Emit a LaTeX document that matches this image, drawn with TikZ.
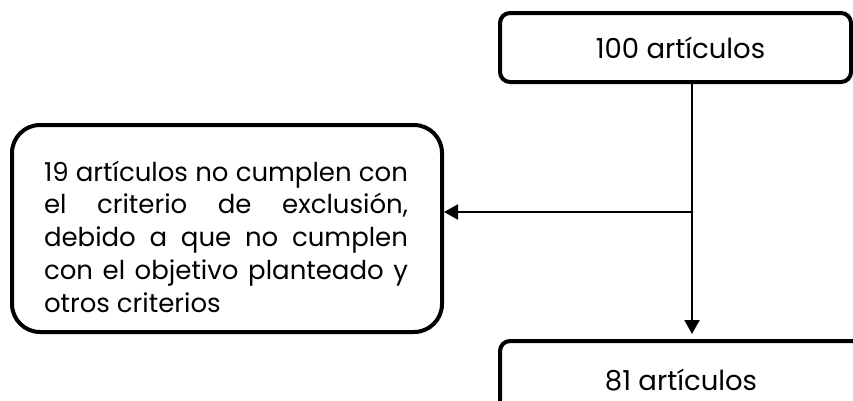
\documentclass[tikz,border=0pt]{standalone}
\usepackage{fontspec}
\setmainfont{Poppins}
\usetikzlibrary{arrows.meta}
\begin{document}
\begin{tikzpicture}[x=1pt,y=-1pt,
  tbox/.style={draw, line width=4pt, rounded corners=10pt, inner sep=0pt,
    font=\fontsize{27.5}{33}\selectfont},
  lbox/.style={draw, line width=4pt, rounded corners=28pt,
    minimum width=430pt, minimum height=207pt},
  ltext/.style={text width=364pt, align=justify, inner sep=0pt,
    font=\fontsize{26}{32.75}\selectfont},
  conn/.style={line width=2pt},
  tip/.style={-{Triangle[length=14pt,width=15pt]}}]
\useasboundingbox (0,0) rectangle (853,400);
\begin{scope}
\clip (0,0) rectangle (853,400);
\node[tbox, minimum width=351pt, minimum height=69pt] (top) at (675.5,47.5) {\hspace*{10pt}100 artículos};
\node[tbox, minimum width=362pt, minimum height=78pt] (bot) at (681,380) {81 artículos};
\node[lbox] (left) at (227,228.5) {};
\node[ltext] (lt) at ([xshift=-1pt,yshift=-8pt]left.center) {\hyphenpenalty=10000 19 artículos no cumplen con\linebreak el criterio de exclusión,\linebreak debido a que no cumplen\linebreak con el objetivo planteado y\linebreak otros criterios};
\coordinate (j) at (692,212);
\draw[conn, tip, shorten >=5pt] (top.south -| j) -- (bot.north -| j);
\draw[conn, tip] (j) -- (left.east |- j);
\end{scope}
\end{tikzpicture}
\end{document}
